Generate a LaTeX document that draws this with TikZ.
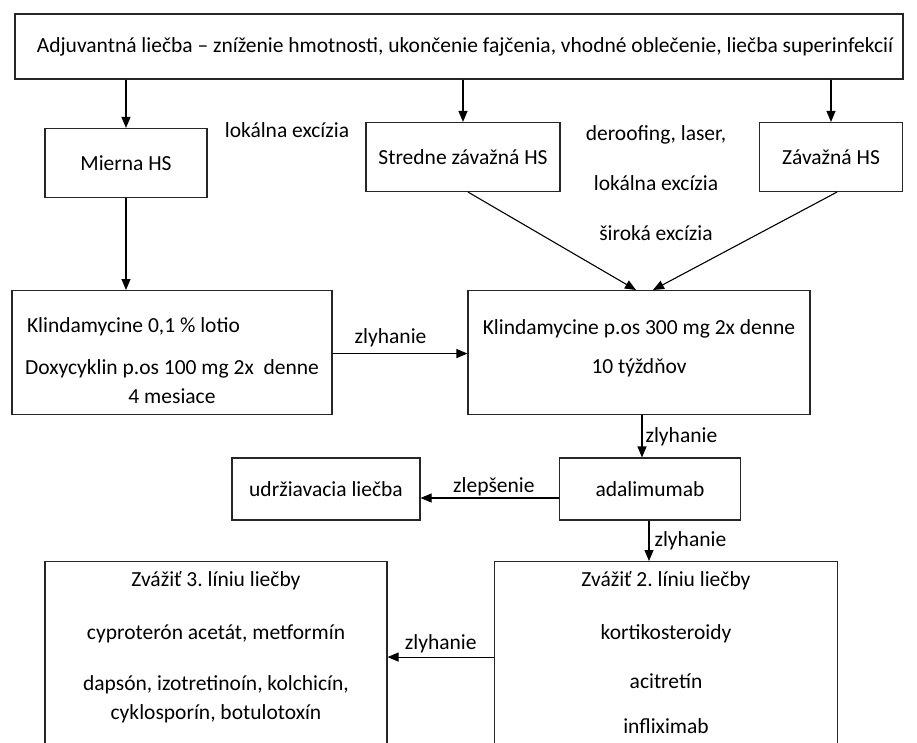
\documentclass[tikz,border=0pt]{standalone}
\usepackage{fontspec}
\setmainfont{Carlito}
\usetikzlibrary{arrows.meta, positioning}

\begin{document}
\frenchspacing
\begin{tikzpicture}[x=1pt, y=-1pt,
  font=\fontsize{21.5}{26}\selectfont,
  box/.style={draw=black!85, line width=1.1pt, rectangle, inner sep=0pt, align=center},
  conn/.style={-{Triangle[length=11pt,width=9pt]}, line width=1.1pt},
  lbl/.style={inner sep=3pt}]
  \useasboundingbox (0,0) rectangle (917,743);
  \clip (0,0) rectangle (917,743);
  % top row
  \node[box, minimum width=888pt, minimum height=65pt] (adj) at (459,46.5)
    {\hspace*{12pt}Adjuvantná liečba – zníženie hmotnosti, ukončenie fajčenia, vhodné oblečenie, liečba superinfekcií};
  \node[box, minimum width=162pt, minimum height=69pt] (mild) at (126,163) {Mierna HS};
  \node[box, minimum width=194pt, minimum height=69pt] (moderate) at (463,157) {Stredne závažná HS};
  \node[box, minimum width=143pt, minimum height=69pt] (severe) at (831,157) {Závažná HS};
  \node[lbl] (exc) at (287,130) {lokálna excízia};
  \node[lbl, align=center] (surg) at (656,183) {deroofing, laser,\\[24pt] lokálna excízia\\[24pt] široká excízia};
  % antibiotics
  \node[box, anchor=north, minimum width=320pt, text height=113pt, text depth=11pt] (klinL) at (172,290)
    {\makebox[290pt][l]{Klindamycine 0,1 \% lotio}\\[16pt] Doxycyklin p.os 100 mg 2x\ \ denne\\[3pt] 4 mesiace};
  \node[box, anchor=north, minimum width=342pt, text height=83pt, text depth=41pt] (klinR) at (639,290)
    {Klindamycine p.os 300 mg 2x denne\\[13pt] 10 týždňov};
  % biologics
  \node[box, minimum width=181pt, minimum height=62pt] (ada) at (650,489) {adalimumab};
  \node[box, minimum width=188pt, minimum height=62pt] (maint) at (326,489) {udržiavacia liečba};
  \node[box, anchor=north, minimum width=343pt, text height=172pt, text depth=37pt] (line2) at (666,561)
    {Zvážiť 2. líniu liečby\\[27pt] kortikosteroidy\\[23pt] acitretín\\[19pt] infliximab};
  \node[box, anchor=north, minimum width=342pt, text height=158pt, text depth=51pt] (line3) at (216,561)
    {Zvážiť 3. líniu liečby\\[27pt] cyproterón acetát, metformín\\[25pt] dapsón, izotretinoín, kolchicín,\\[3pt] cyklosporín, botulotoxín};
  % connectors
  \draw[conn] (adj.south -| mild.north) -- (mild.north);
  \draw[conn] (adj.south -| moderate.north) -- (moderate.north);
  \draw[conn] (adj.south -| severe.north) -- (severe.north);
  \draw[conn] (mild.south) -- (mild.south |- klinL.north);
  \draw[conn] ([xshift=5pt]moderate.south) -- ([xshift=-3pt]klinR.north);
  \draw[conn] ([xshift=6pt]severe.south) -- ([xshift=14pt]klinR.north);
  \draw[conn] ([yshift=-1pt]klinL.east) -- ([yshift=-1pt]klinL.east -| klinR.west)
    node[lbl, pos=0.43, above, inner sep=6pt] (fail1) {zlyhanie};
  \draw[conn] ([xshift=3pt]klinR.south) -- ([xshift=3pt]klinR.south |- ada.north)
    node[lbl, midway, right] (fail2) {zlyhanie};
  \draw[conn] ([yshift=-9pt]ada.west) -- ([yshift=-9pt]ada.west -| maint.east)
    node[lbl, pos=0.47, above, inner sep=1pt] (better) {zlepšenie};
  \draw[conn] ([xshift=-1pt]ada.south) -- ([xshift=-1pt]ada.south |- line2.north)
    node[lbl, midway, right, inner sep=5pt] (fail3) {zlyhanie};
  \draw[conn] ([yshift=9pt]line2.west) -- ([yshift=9pt]line2.west -| line3.east)
    node[lbl, midway, above, inner sep=4pt] (fail4) {zlyhanie};
\end{tikzpicture}
\end{document}
